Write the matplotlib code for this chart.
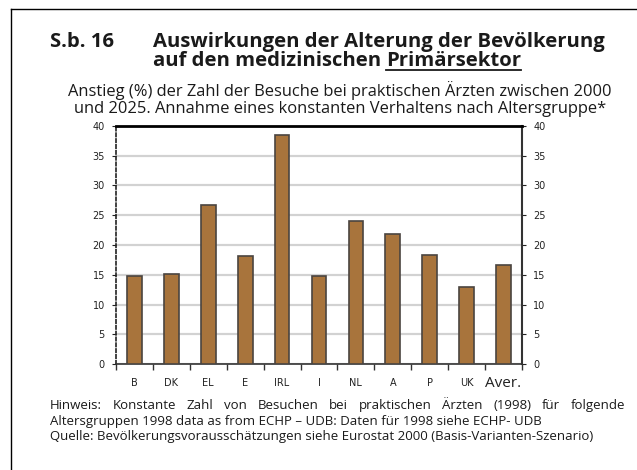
import matplotlib.pyplot as plt
import numpy as np
from matplotlib import font_manager

# -----------------------------
# Data
# -----------------------------
countries = ["B", "DK", "EL", "E", "IRL", "I", "NL", "A", "P", "UK", "Aver."]
increase = [14.8, 15.1, 26.7, 18.2, 38.4, 14.8, 24.1, 21.9, 18.4, 12.9, 16.6]
yticks = [0, 5, 10, 15, 20, 25, 30, 35, 40]

title_num = "S.b. 16"
title_1 = "Auswirkungen der Alterung der Bevölkerung"
title_2a = "auf den medizinischen "
title_2b = "Primärsektor"
subtitle = ("Anstieg (%) der Zahl der Besuche bei praktischen Ärzten zwischen 2000\n"
            "und 2025. Annahme eines konstanten Verhaltens nach Altersgruppe*")
note_lines = [
    "Hinweis: Konstante Zahl von Besuchen bei praktischen Ärzten (1998) für folgende",
    "Altersgruppen 1998 data as from ECHP – UDB: Daten für 1998 siehe ECHP- UDB",
    "Quelle: Bevölkerungsvorausschätzungen siehe Eurostat 2000 (Basis-Varianten-Szenario)",
]

plt.rcParams["font.family"] = ["Open Sans", "DejaVu Sans"]

names = {f.name for f in font_manager.fontManager.ttflist}
narrow = "Liberation Sans Narrow" if "Liberation Sans Narrow" in names else "DejaVu Sans"

W, H = 637, 470
fig = plt.figure(figsize=(6.37, 4.70), dpi=100)

# frame lines (top and left only)
fig.add_artist(plt.Line2D([11 / W, 1], [1 - 9 / H, 1 - 9 / H], color="black", lw=1.0))
fig.add_artist(plt.Line2D([11 / W, 11 / W], [0, 1 - 9 / H], color="black", lw=1.0))

ax = fig.add_axes([116 / W, 1 - 364.3 / H, 406 / W, 238.6 / H])

x = np.arange(len(countries))
ax.bar(x, increase, width=0.4, color="#A8743C", edgecolor="#4a4440", linewidth=1.2, zorder=3)

ax.set_xlim(-0.5, len(countries) - 0.5)
ax.set_ylim(0, 40)
ax.set_yticks(yticks)
ax.yaxis.grid(True, color="#d2d2d2", linewidth=1.6, zorder=0)

# category ticks between bars
ax.set_xticks(np.arange(-0.5, len(countries), 1.0))
ax.set_xticklabels([])
ax.tick_params(axis="x", direction="out", length=4, color="#333333", width=1)
for i, c in enumerate(countries):
    if c == "Aver.":
        ax.text(i, -2.0, c, ha="center", va="top", fontsize=11, color="#222222")
    else:
        ax.text(i, -2.3, c, ha="center", va="top", fontsize=7, family=narrow,
                color="#222222")

ax.tick_params(axis="y", which="both", left=True, right=True, labelleft=True,
               labelright=True, length=3, width=0.8, labelsize=7, colors="#222222",
               pad=5)
for tl in ax.yaxis.get_majorticklabels():
    tl.set_family(narrow)

ax.spines["top"].set_linewidth(2.0)
ax.spines["top"].set_color("black")
ax.spines["left"].set_linestyle((0, (2, 1.5)))
ax.spines["left"].set_linewidth(1.2)
ax.spines["left"].set_color("#222222")
ax.spines["right"].set_linewidth(1.5)
ax.spines["right"].set_color("#333333")
ax.spines["bottom"].set_linewidth(1.2)
ax.spines["bottom"].set_color("#333333")

# -----------------------------
# Titles
# -----------------------------
tsize = 14.6
fig.text(50 / W, 1 - 42 / H, title_num, fontsize=tsize, fontweight="bold", va="center",
         color="#1a1a1a")
fig.text(153 / W, 1 - 42 / H, title_1, fontsize=tsize, fontweight="bold", va="center",
         color="#1a1a1a")
t2a = fig.text(153 / W, 1 - 61 / H, title_2a, fontsize=tsize, fontweight="bold",
               va="center", color="#1a1a1a")
fig.canvas.draw()
r = fig.canvas.get_renderer()
bb = t2a.get_window_extent(r)
t2b = fig.text(bb.x1 / W, 1 - 61 / H, title_2b, fontsize=tsize,
               fontweight="bold", va="center", color="#1a1a1a")
fig.canvas.draw()
bb2 = t2b.get_window_extent(r)
uy = (bb2.y0 + 1.5) / H
fig.add_artist(plt.Line2D([bb2.x0 / W, bb2.x1 / W], [uy, uy], color="#1a1a1a", lw=1.3))

fig.text(340 / W, 1 - 99 / H, subtitle, fontsize=11.9, ha="center", va="center",
         linespacing=1.15, color="#1a1a1a")

# -----------------------------
# Notes (first line justified)
# -----------------------------
nsize = 9.5
note_base = [409, 424.5, 440]
words = note_lines[0].split(" ")
wt = [fig.text(0, 0, w, fontsize=nsize) for w in words]
fig.canvas.draw()
widths = [t.get_window_extent(r).width for t in wt]
for t in wt:
    t.remove()
gap = (625 - 50 - sum(widths)) / (len(words) - 1)
xpos = 50
for w, wd in zip(words, widths):
    fig.text(xpos / W, 1 - note_base[0] / H, w, fontsize=nsize, va="baseline",
             color="#1a1a1a")
    xpos += wd + gap
for line, yy in zip(note_lines[1:], note_base[1:]):
    fig.text(50 / W, 1 - yy / H, line, fontsize=nsize, va="baseline", color="#1a1a1a")

plt.savefig("out.png", dpi=100)
